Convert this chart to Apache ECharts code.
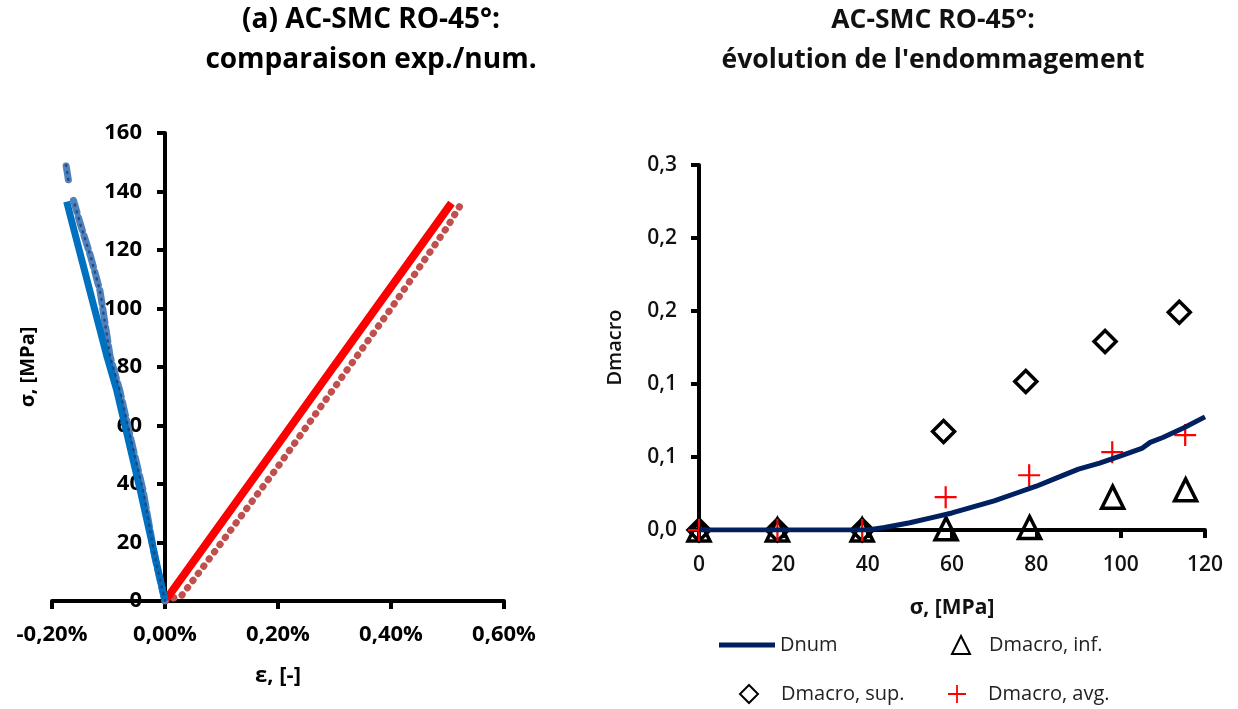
<!DOCTYPE html>
<html>
<head>
<meta charset="utf-8">
<script src="https://cdn.jsdelivr.net/npm/echarts@6/dist/echarts.min.js"></script>
<style>
html,body{margin:0;padding:0;background:#fff;}
#c{width:1238px;height:709px;}
</style>
</head>
<body>
<div id="c"></div>
<script>
// ---- Left panel: stress-strain (strain in %) ----
var epsNumL = [0, 0.1, 0.2, 0.3, 0.4, 0.507];
var sigNumL = [0, 26.8, 53.6, 80.5, 107.3, 136];
var epsExpL = [0, 0.03, 0.1, 0.2, 0.3, 0.4, 0.5, 0.528];
var sigExpL = [0, 2, 20, 46, 73, 100, 128, 137];
var epsNumT = [0, -0.022, -0.044, -0.0854, -0.1026, -0.133, -0.164, -0.174];
var sigNumT = [0, 19, 38, 72, 83.5, 106, 129, 136.5];
var epsExpT = [0, -0.018, -0.039, -0.06, -0.08, -0.097, -0.115, -0.132, -0.15, -0.162, null, -0.171, -0.176];
var sigExpT = [0, 15, 38, 55, 72, 83.5, 106, 118, 129, 137, null, 144, 150];
var epsTicksL = [-0.2, 0, 0.2, 0.4, 0.6];

// ---- Right panel: damage evolution ----
var sigDnum = [0, 20, 40, 44, 50, 55, 60, 65, 70, 75, 80, 85, 90, 95, 100, 105, 107, 110, 115, 120];
var dNum = [0, 0, 0, 0.002, 0.006, 0.010, 0.014, 0.019, 0.024, 0.030, 0.036, 0.043, 0.050, 0.055, 0.061, 0.067, 0.072, 0.076, 0.084, 0.093];
var sigInf = [0, 18.6, 38.7, 58.6, 78.4, 98.1, 115.4];
var dInf = [0, 0, 0, 0.001, 0.002, 0.027, 0.033];
var sigSup = [0, 18.6, 38.7, 58.0, 77.5, 96.3, 113.9];
var dSup = [0, 0, 0, 0.081, 0.122, 0.155, 0.179];
var sigAvg = [0, 18.6, 38.7, 58.5, 78.3, 98.0, 115.3];
var dAvg = [0, 0, 0, 0.027, 0.045, 0.064, 0.078];

function zip(a, b) {
  return a.map(function (v, i) { return (v === null || b[i] === null) ? [null, null] : [v, b[i]]; });
}

var FONT = '"Open Sans", Lato, sans-serif';
var axisLineStyle = { color: '#000', width: 4 };
var tickStyle = { color: '#000', width: 4 };

var chart = echarts.init(document.getElementById('c'));
var crossPath = 'path://M9,0h2v20h-2z M0,9h20v2h-20z';
var legText = { fontFamily: FONT, fontSize: 20, color: '#222' };

var option = {
  animation: false,
  backgroundColor: '#fff',
  title: [
    { text: '(a) AC-SMC RO-45°:\ncomparaison exp./num.', left: 366, top: -5, textAlign: 'center',
      textStyle: { fontFamily: FONT, fontWeight: 'bold', fontSize: 28, lineHeight: 40, color: '#000' } },
    { text: 'AC-SMC RO-45°:\névolution de l\'endommagement', left: 928, top: -5, textAlign: 'center',
      textStyle: { fontFamily: FONT, fontWeight: 'bold', fontSize: 26.5, lineHeight: 40, color: '#111' } }
  ],
  legend: [
    { data: ['Dnum'], left: 714, top: 630, itemWidth: 56, itemHeight: 5, icon: 'rect', textStyle: legText },
    { data: ['Dmacro, inf.'], left: 946, top: 630, itemWidth: 18, itemHeight: 18,
      textStyle: Object.assign({ padding: [0, 0, 0, 14] }, legText) },
    { data: ['Dmacro, sup.'], left: 734, top: 679, itemWidth: 18, itemHeight: 18,
      textStyle: Object.assign({ padding: [0, 0, 0, 18] }, legText) },
    { data: ['Dmacro, avg.'], left: 943, top: 679, itemWidth: 18, itemHeight: 18,
      textStyle: Object.assign({ padding: [0, 0, 0, 17] }, legText) }
  ],
  grid: [
    { left: 52, right: 734, top: 133, bottom: 108, outerBoundsMode: 'none' },
    { left: 699, right: 33, top: 165, bottom: 179, outerBoundsMode: 'none' }
  ],
  xAxis: [
    { type: 'value', gridIndex: 0, min: epsTicksL[0], max: epsTicksL[epsTicksL.length - 1], interval: 0.2,
      splitLine: { show: false },
      axisLine: { onZero: false, lineStyle: axisLineStyle },
      axisTick: { show: true, length: 8, lineStyle: tickStyle },
      axisLabel: { margin: 23, fontFamily: FONT, fontWeight: 'bold', fontSize: 22, color: '#000',
        formatter: function (v) { return v.toFixed(2).replace('.', ',') + '%'; } },
      name: 'ε, [-]', nameLocation: 'middle', nameGap: 64,
      nameTextStyle: { fontFamily: FONT, fontWeight: 'bold', fontSize: 22, color: '#000' } },
    { type: 'value', gridIndex: 1, min: 0, max: 120, interval: 20,
      splitLine: { show: false },
      axisLine: { onZero: false, lineStyle: axisLineStyle },
      axisTick: { show: true, length: 8, lineStyle: tickStyle },
      axisLabel: { margin: 25, fontFamily: FONT, fontWeight: 600, fontSize: 21, color: '#111' },
      name: 'σ, [MPa]', nameLocation: 'middle', nameGap: 68,
      nameTextStyle: { fontFamily: FONT, fontWeight: 'bold', fontSize: 21, color: '#111' } }
  ],
  yAxis: [
    { type: 'value', gridIndex: 0, min: 0, max: 160, interval: 20, offset: -113,
      splitLine: { show: false },
      axisLine: { onZero: false, lineStyle: axisLineStyle },
      axisTick: { show: true, length: 8, lineStyle: tickStyle },
      axisLabel: { margin: 23, fontFamily: FONT, fontWeight: 'bold', fontSize: 22, color: '#000' },
      name: 'σ, [MPa]', nameLocation: 'middle', nameGap: 127, nameRotate: 90,
      nameTextStyle: { fontFamily: FONT, fontWeight: 'bold', fontSize: 20, color: '#000' } },
    { type: 'value', gridIndex: 1, min: 0, max: 0.3, interval: 0.06,
      splitLine: { show: false },
      axisLine: { onZero: false, lineStyle: axisLineStyle },
      axisTick: { show: true, length: 8, lineStyle: tickStyle },
      axisLabel: { margin: 22, fontFamily: FONT, fontWeight: 600, fontSize: 21, color: '#111',
        formatter: function (v) { return v.toFixed(1).replace('.', ','); } },
      name: 'Dmacro', nameLocation: 'middle', nameGap: 74, nameRotate: 90,
      nameTextStyle: { fontFamily: FONT, fontWeight: 600, fontSize: 20, color: '#111' } }
  ],
  series: [
    { name: 'exp. L', type: 'line', xAxisIndex: 0, yAxisIndex: 0, data: zip(epsExpL, sigExpL),
      symbol: 'none', lineStyle: { color: '#C0504D', width: 7, type: [0.5, 8.5], cap: 'round' } },
    { name: 'num. L', type: 'line', xAxisIndex: 0, yAxisIndex: 0, data: zip(epsNumL, sigNumL),
      symbol: 'none', lineStyle: { color: '#FF0000', width: 8 } },
    { name: 'exp. T', type: 'line', xAxisIndex: 0, yAxisIndex: 0, data: zip(epsExpT, sigExpT),
      symbol: 'none', connectNulls: false, lineStyle: { color: '#4F81BD', width: 7, type: [14, 5], cap: 'round' } },
    { name: 'num. T', type: 'line', xAxisIndex: 0, yAxisIndex: 0, data: zip(epsNumT, sigNumT),
      symbol: 'none', lineStyle: { color: '#0070C0', width: 7 } },
    { name: 'exp. T2', type: 'line', xAxisIndex: 0, yAxisIndex: 0, data: zip(epsExpT, sigExpT),
      symbol: 'none', connectNulls: false, lineStyle: { color: '#1F3F6F', width: 2.5, type: [1, 6], cap: 'round', opacity: 0.8 } },

    { name: 'Dnum', type: 'line', xAxisIndex: 1, yAxisIndex: 1, data: zip(sigDnum, dNum),
      symbol: 'none', lineStyle: { color: '#002060', width: 5 }, itemStyle: { color: '#002060' } },
    { name: 'Dmacro, sup.', type: 'scatter', xAxisIndex: 1, yAxisIndex: 1, data: zip(sigSup, dSup),
      symbol: 'diamond', symbolSize: 22,
      itemStyle: { color: 'rgba(255,255,255,0)', borderColor: '#000', borderWidth: 3.5, opacity: 1 } },
    { name: 'Dmacro, inf.', type: 'scatter', xAxisIndex: 1, yAxisIndex: 1, data: zip(sigInf, dInf),
      symbol: 'triangle', symbolSize: 22,
      itemStyle: { color: 'rgba(255,255,255,0)', borderColor: '#000', borderWidth: 3.5, opacity: 1 } },
    { name: 'Dmacro, avg.', type: 'scatter', xAxisIndex: 1, yAxisIndex: 1, data: zip(sigAvg, dAvg),
      symbol: crossPath, symbolSize: 22,
      itemStyle: { color: '#FF0000', opacity: 1 } }
  ]
};
chart.setOption(option);
</script>
</body>
</html>
